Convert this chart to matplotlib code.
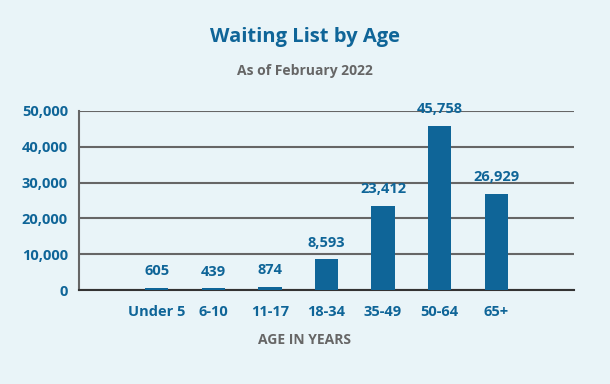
import matplotlib.pyplot as plt
from matplotlib.ticker import FuncFormatter

plt.rcParams['font.family'] = ['Open Sans', 'DejaVu Sans']

ages = ['Under 5', '6-10', '11-17', '18-34', '35-49', '50-64', '65+']
counts = [605, 439, 874, 8593, 23412, 45758, 26929]

bg = '#e9f4f8'
blue = '#0f6598'
grey = '#666666'

fig = plt.figure(figsize=(6.1, 3.84), dpi=100, facecolor=bg)
ax = fig.add_axes([79/610, 1 - 290/384, 495/610, 179/384])
ax.set_facecolor(bg)

x = range(len(ages))
ax.bar(x, counts, width=0.41, color=blue, zorder=3)
for i, v in zip(x, counts):
    ax.annotate(f'{v:,}', (i, v), xytext=(0, 7), textcoords='offset points',
                ha='center', va='bottom', color=blue,
                fontsize=10.5, fontweight='bold')

ax.set_xlim(-1.376, 7.376)
ax.set_ylim(0, 50000)
ax.set_yticks(range(0, 50001, 10000))
ax.yaxis.set_major_formatter(FuncFormatter(lambda v, p: f'{int(v):,}'))
ax.set_xticks(list(x))
ax.set_xticklabels(ages)
ax.grid(axis='y', color=grey, linewidth=1.5, zorder=0)
ax.tick_params(axis='both', length=0, colors=blue, labelsize=10.5)
ax.tick_params(axis='x', pad=11)
ax.tick_params(axis='y', pad=8)
for lbl in ax.get_xticklabels() + ax.get_yticklabels():
    lbl.set_fontweight('bold')
for s in ['top', 'right']:
    ax.spines[s].set_visible(False)
ax.spines['left'].set_color(grey)
ax.spines['bottom'].set_color('#333333')
ax.spines['left'].set_linewidth(1.5)
ax.spines['bottom'].set_linewidth(1.5)

fig.text(0.5, 1 - 37/384, 'Waiting List by Age', ha='center', va='center',
         color=blue, fontsize=14.5, fontweight='bold')
fig.text(0.5, 1 - 71/384, 'As of February 2022', ha='center', va='center',
         color='#666666', fontsize=10, fontweight='bold')
fig.text(0.5, 1 - 340/384, 'AGE IN YEARS', ha='center', va='center',
         color='#666666', fontsize=10, fontweight='bold')

fig.savefig('out.png', dpi=100, facecolor=bg)
